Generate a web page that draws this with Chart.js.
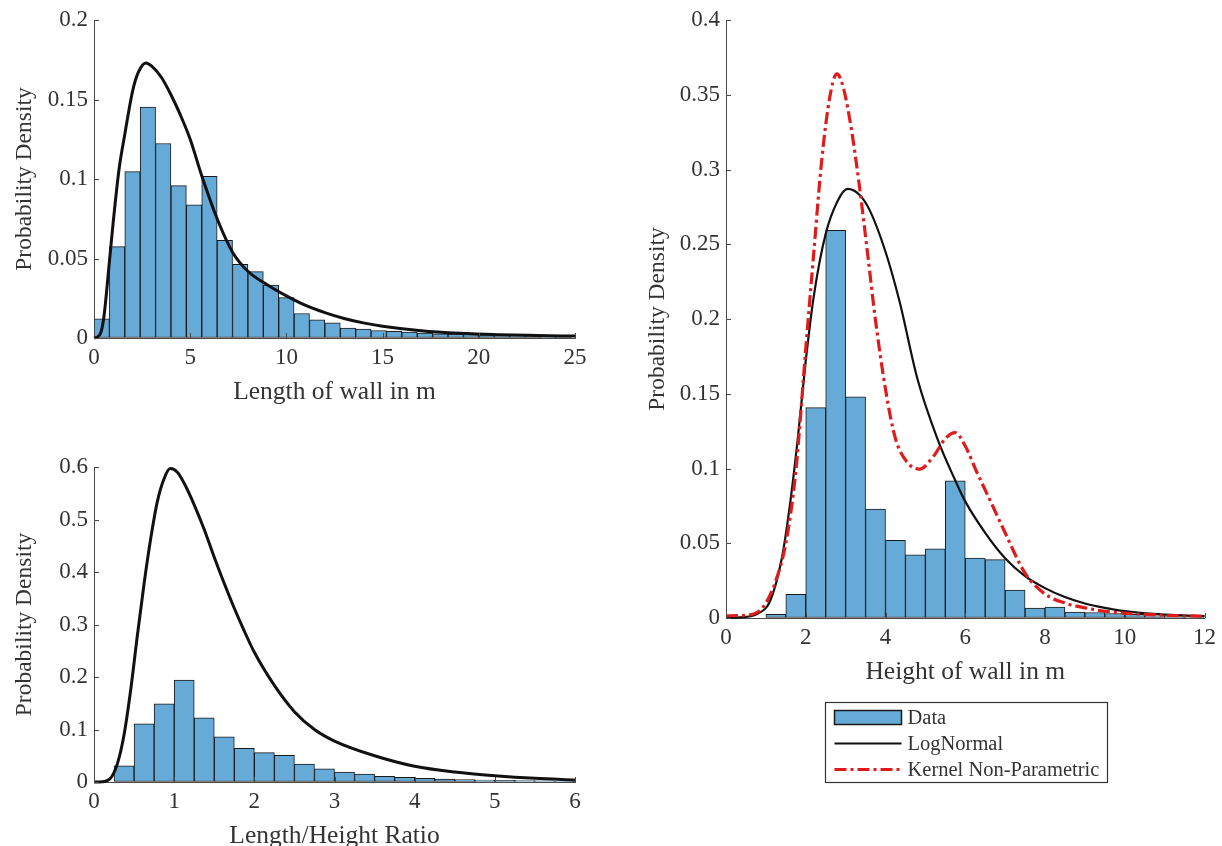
<!DOCTYPE html>
<html>
<head>
<meta charset="utf-8">
<script src="https://cdn.jsdelivr.net/npm/chart.js@4.4.1/dist/chart.umd.min.js"></script>
<style>
  html, body { margin: 0; padding: 0; background: #fff; }
  body { width: 1222px; height: 846px; position: relative; overflow: hidden; }
  canvas { position: absolute; }
  #lengthChart { left: 0; top: 0; }
  #ratioChart { left: 0; top: 430px; }
  #heightChart { left: 620px; top: 0; }
</style>
</head>
<body>
<canvas id="lengthChart" width="600" height="420"></canvas>
<canvas id="ratioChart" width="600" height="430"></canvas>
<canvas id="heightChart" width="602" height="846"></canvas>
<script>
// --- wall length: histogram (0.8 m bins from 0) + lognormal fit
const lengthBinStart = 0;
const lengthBinWidth = 0.8;
const lengthDensity = [0.012, 0.0575, 0.1046, 0.1452, 0.1223, 0.0958, 0.0838, 0.1017, 0.0615, 0.0463,
  0.0417, 0.0333, 0.0254, 0.0154, 0.0115, 0.0096, 0.0063, 0.0056, 0.0047, 0.0042,
  0.0037, 0.0031, 0.0027, 0.0025, 0.0022, 0.002, 0.0017, 0.0015, 0.0013, 0.0012, 0.001];
const lengthFitX = [0, 0.3, 0.5, 0.8, 1.0, 1.3, 1.6, 2.0, 2.3, 2.7, 3.0, 3.5, 4.0, 4.5, 5.0, 5.6, 6.4, 7.2,
  8.0, 9.0, 10, 11, 12, 13, 14, 15, 17, 19, 21, 23, 25];
const lengthFitY = [0, 0.002, 0.012, 0.048, 0.073, 0.106, 0.128, 0.155, 0.167, 0.173, 0.171, 0.164, 0.153,
  0.140, 0.125, 0.102, 0.075, 0.054, 0.042, 0.0335, 0.0265, 0.0205, 0.016, 0.0123, 0.0095, 0.0074,
  0.0046, 0.003, 0.0021, 0.0016, 0.0012];

// --- length/height ratio: histogram (0.25 bins) + lognormal fit
const ratioBinStart = 0;
const ratioBinWidth = 0.25;
const ratioDensity = [0, 0.031, 0.111, 0.149, 0.194, 0.122, 0.086, 0.064, 0.056, 0.051, 0.034, 0.025,
  0.019, 0.015, 0.011, 0.009, 0.007, 0.0055, 0.0045, 0.0035, 0.003, 0.0025, 0.002, 0.0015];
const ratioFitX = [0, 0.1, 0.2, 0.29, 0.375, 0.46, 0.54, 0.625, 0.71, 0.79, 0.875, 0.95, 1.04, 1.125, 1.25,
  1.375, 1.5, 1.625, 1.75, 1.875, 2.0, 2.25, 2.5, 2.75, 3.0, 3.5, 4.0, 4.5, 5.0, 5.5, 6.0];
const ratioFitY = [0, 0.0005, 0.006, 0.034, 0.09, 0.178, 0.278, 0.378, 0.466, 0.534, 0.578, 0.597, 0.59,
  0.569, 0.528, 0.481, 0.428, 0.378, 0.331, 0.2875, 0.247, 0.184, 0.134, 0.1, 0.078, 0.05, 0.03, 0.019,
  0.012, 0.007, 0.004];

// --- wall height: histogram (0.5 m bins) + lognormal + kernel density
const heightBinStart = 0;
const heightBinWidth = 0.5;
const heightDensity = [0, 0, 0.0024, 0.0158, 0.1407, 0.2593, 0.148, 0.0729, 0.052, 0.0422, 0.0462, 0.0918,
  0.04, 0.0391, 0.0187, 0.0067, 0.0073, 0.004, 0.0037, 0.003, 0.0024, 0.0014, 0.001, 0.0008];
const heightFitX = [0, 0.5, 0.8, 1.1, 1.4, 1.6, 1.8, 2.0, 2.2, 2.5, 2.8, 3.05, 3.35, 3.6, 4.0, 4.35, 4.8,
  5.3, 5.75, 6.0, 6.5, 7.0, 7.5, 8.0, 8.5, 9.0, 9.5, 10, 11, 12];
const heightFitY = [0, 0.0007, 0.003, 0.011, 0.04, 0.075, 0.12, 0.172, 0.215, 0.257, 0.279, 0.287, 0.283,
  0.273, 0.245, 0.212, 0.16, 0.12, 0.092, 0.078, 0.057, 0.04, 0.028, 0.02, 0.014, 0.0097, 0.0068, 0.0046,
  0.0022, 0.0012];
const heightKdeX = [0, 0.5, 0.8, 1.0, 1.25, 1.5, 1.75, 2.0, 2.2, 2.4, 2.6, 2.78, 2.95, 3.15, 3.35, 3.55,
  3.75, 4.0, 4.25, 4.55, 4.85, 5.2, 5.5, 5.75, 6.0, 6.3, 6.6, 7.0, 7.5, 8.0, 8.5, 9.0, 9.5, 10, 11, 12];
const heightKdeY = [0.0015, 0.0018, 0.004, 0.01, 0.025, 0.05, 0.098, 0.18, 0.244, 0.306, 0.348, 0.364,
  0.354, 0.326, 0.288, 0.244, 0.199, 0.153, 0.12, 0.104, 0.0996, 0.108, 0.12, 0.124, 0.115, 0.097, 0.08,
  0.057, 0.03, 0.016, 0.01, 0.0068, 0.0045, 0.0032, 0.0018, 0.0012];

const BAR_FILL = '#66aad7';
const BAR_EDGE = '#1a1a1a';
const AXIS = '#4a4a4a';
const TEXT = '#333333';
const SERIF = "'Liberation Serif', 'Times New Roman', serif";

Chart.defaults.font.family = SERIF;
Chart.defaults.color = TEXT;

function histPoints(start, width, values) {
  return values.map((v, i) => ({ x: start + width * (i + 0.5), y: v }));
}
function curvePoints(xs, ys) {
  return xs.map((x, i) => ({ x: x, y: ys[i] }));
}
const fmt = (v) => String(Number(v.toFixed(3)));

// matlab style ticks pointing into the plot
const inwardTicks = {
  id: 'inwardTicks',
  afterDatasetsDraw(chart) {
    const { ctx, chartArea, scales: { x, y } } = chart;
    ctx.save();
    ctx.strokeStyle = AXIS;
    ctx.lineWidth = 1;
    ctx.beginPath();
    x.ticks.forEach(t => {
      const px = Math.round(x.getPixelForValue(t.value)) + 0.5;
      ctx.moveTo(px, chartArea.bottom);
      ctx.lineTo(px, chartArea.bottom - 5);
    });
    y.ticks.forEach(t => {
      const py = Math.round(y.getPixelForValue(t.value)) + 0.5;
      ctx.moveTo(chartArea.left, py);
      ctx.lineTo(chartArea.left + 5, py);
    });
    ctx.stroke();
    ctx.restore();
  }
};

// boxed legend under the height panel
const boxedLegend = {
  id: 'boxedLegend',
  afterDraw(chart) {
    const { ctx, chartArea } = chart;
    const w = 282, h = 80, rowH = 26;
    const left = Math.round((chartArea.left + chartArea.right) / 2 - w / 2) + 1.5;
    const top = Math.round(chartArea.bottom + 84) + 0.5;
    ctx.save();
    ctx.fillStyle = '#fff';
    ctx.fillRect(left, top, w, h);
    ctx.strokeStyle = '#333';
    ctx.lineWidth = 1.2;
    ctx.strokeRect(left, top, w, h);
    ctx.font = '20.5px ' + SERIF;
    ctx.textBaseline = 'middle';
    chart.data.datasets.forEach((ds, i) => {
      const cy = top + 15 + i * rowH;
      const x0 = left + 9, x1 = left + 76;
      if (ds.type === 'bar') {
        ctx.fillStyle = ds.backgroundColor;
        ctx.fillRect(x0, cy - 7, x1 - x0, 14);
        ctx.strokeStyle = ds.borderColor;
        ctx.lineWidth = 1.5;
        ctx.strokeRect(x0, cy - 7, x1 - x0, 14);
      } else {
        ctx.strokeStyle = ds.borderColor;
        ctx.lineWidth = ds.borderWidth;
        ctx.setLineDash(ds.borderDash || []);
        ctx.beginPath();
        ctx.moveTo(x0, cy);
        ctx.lineTo(x1, cy);
        ctx.stroke();
        ctx.setLineDash([]);
      }
      ctx.fillStyle = TEXT;
      ctx.fillText(ds.label, left + 82, cy + 1);
    });
    ctx.restore();
  }
};

function makePanel(id, p) {
  const datasets = [{
    type: 'bar',
    label: 'Data',
    data: p.bars,
    backgroundColor: BAR_FILL,
    borderColor: BAR_EDGE,
    borderWidth: 1,
    borderSkipped: false,
    barPercentage: 1,
    categoryPercentage: 1,
    order: 3
  }];
  p.lines.forEach((l, i) => {
    datasets.push({
      type: 'line',
      label: l.label,
      data: l.data,
      borderColor: l.color,
      borderWidth: l.width,
      borderDash: l.dash || [],
      pointRadius: 0,
      fill: false,
      cubicInterpolationMode: 'monotone',
      clip: 6,
      order: 2 - i
    });
  });

  return new Chart(document.getElementById(id), {
    type: 'bar',
    data: { datasets },
    options: {
      responsive: false,
      animation: false,
      layout: { padding: p.padding },
      plugins: { legend: { display: false }, tooltip: { enabled: false } },
      scales: {
        x: {
          type: 'linear',
          min: p.xMin, max: p.xMax,
          offset: false,
          afterFit: (s) => { s.height = p.xHeight; },
          grid: { display: true, drawOnChartArea: false, drawTicks: false, offset: false },
          border: { display: true, color: AXIS, width: 1 },
          ticks: { stepSize: p.xStep, padding: 6, maxRotation: 0, autoSkip: false,
            font: { size: 23 }, color: TEXT, callback: fmt },
          title: { display: true, text: p.xTitle, color: TEXT, font: { size: 25.5 },
            padding: { top: 0, bottom: p.xTitlePad } }
        },
        y: {
          type: 'linear',
          min: 0, max: p.yMax,
          afterFit: (s) => { s.width = p.yWidth; },
          grid: { display: true, drawOnChartArea: false, drawTicks: false },
          border: { display: true, color: AXIS, width: 1 },
          ticks: { stepSize: p.yStep, padding: 6, autoSkip: false,
            font: { size: 23 }, color: TEXT, callback: fmt },
          title: { display: true, text: 'Probability Density', color: TEXT, font: { size: 23.5 },
            padding: { top: p.yTitlePad, bottom: 0 } }
        }
      }
    },
    plugins: p.legend ? [inwardTicks, boxedLegend] : [inwardTicks]
  });
}

makePanel('lengthChart', {
  bars: histPoints(lengthBinStart, lengthBinWidth, lengthDensity),
  lines: [{ label: 'LogNormal', data: curvePoints(lengthFitX, lengthFitY), color: '#111', width: 3 }],
  xMin: 0, xMax: 25, xStep: 5, yMax: 0.2, yStep: 0.05,
  xTitle: 'Length of wall in m',
  padding: { left: 0, top: 20, right: 25, bottom: 0 },
  xHeight: 82, yWidth: 94, xTitlePad: 12.5, yTitlePad: 10.5
});

makePanel('ratioChart', {
  bars: histPoints(ratioBinStart, ratioBinWidth, ratioDensity),
  lines: [{ label: 'LogNormal', data: curvePoints(ratioFitX, ratioFitY), color: '#111', width: 3 }],
  xMin: 0, xMax: 6, xStep: 1, yMax: 0.6, yStep: 0.1,
  xTitle: 'Length/Height Ratio',
  padding: { left: 0, top: 37, right: 25, bottom: 0 },
  xHeight: 78, yWidth: 94, xTitlePad: 8.5, yTitlePad: 10.5
});

makePanel('heightChart', {
  bars: histPoints(heightBinStart, heightBinWidth, heightDensity),
  lines: [
    { label: 'LogNormal', data: curvePoints(heightFitX, heightFitY), color: '#111', width: 2.2 },
    { label: 'Kernel Non-Parametric', data: curvePoints(heightKdeX, heightKdeY), color: '#e01b1b',
      width: 3.2, dash: [12, 4, 3, 4] }
  ],
  xMin: 0, xMax: 12, xStep: 2, yMax: 0.4, yStep: 0.05,
  xTitle: 'Height of wall in m',
  padding: { left: 0, top: 20, right: 15, bottom: 156 },
  xHeight: 72, yWidth: 106, xTitlePad: 2.5, yTitlePad: 23.5,
  legend: true
});
</script>
</body>
</html>
